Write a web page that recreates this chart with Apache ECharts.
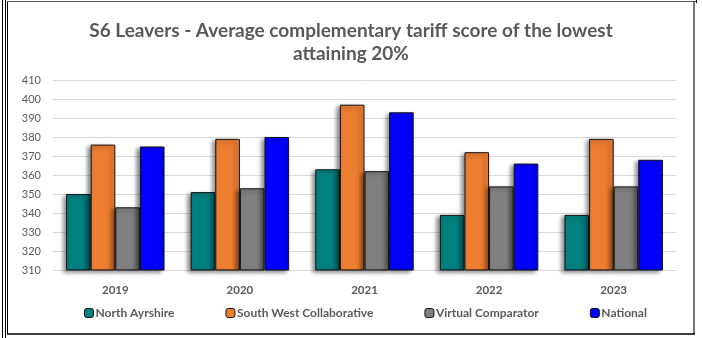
<!DOCTYPE html>
<html>
<head>
<meta charset="utf-8">
<script src="https://cdn.jsdelivr.net/npm/echarts@6/dist/echarts.min.js"></script>
<style>
  html, body { margin: 0; padding: 0; background: #fff; }
  #chart { width: 702px; height: 338px; }
</style>
</head>
<body>
<div id="chart"></div>
<script>
const years = ['2019', '2020', '2021', '2022', '2023'];
const northAyrshire = [350, 351, 363, 339, 339];
const southWest = [376, 379, 397, 372, 379];
const virtualComparator = [343, 353, 362, 354, 354];
const national = [375, 380, 393, 366, 368];
const seriesNames = ['North Ayrshire', 'South West Collaborative', 'Virtual Comparator', 'National'];
const seriesColors = ['#008080', '#ED7D31', '#808080', '#0000FF'];

const FONT = '"Lato", sans-serif';
const chart = echarts.init(document.getElementById('chart'));

function barSeries(name, data, color) {
  return {
    name: name,
    type: 'bar',
    data: data,
    barGap: '0%',
    barCategoryGap: '21%',
    itemStyle: {
      color: color,
      borderColor: '#111',
      borderWidth: 1,
      shadowColor: 'rgba(0,0,0,0.45)',
      shadowBlur: 4,
      shadowOffsetX: -3,
      shadowOffsetY: 2
    }
  };
}

chart.setOption({
  animation: false,
  title: {
    text: 'S6 Leavers - Average complementary tariff score of the lowest\nattaining 20%',
    left: 'center',
    top: 14,
    textStyle: {
      fontFamily: FONT,
      fontSize: 19,
      fontWeight: 'bold',
      color: '#595959',
      lineHeight: 23
    }
  },
  legend: {
    data: seriesNames,
    bottom: 14,
    left: 79,
    itemWidth: 9,
    itemHeight: 9,
    itemGap: 51,
    textStyle: { fontFamily: FONT, fontSize: 12, fontWeight: 'bold', color: '#595959', padding: [0, 0, 0, -3] },
    itemStyle: { borderColor: '#111', borderWidth: 1 }
  },
  grid: { left: 53, right: 26, top: 80, bottom: 68 },
  xAxis: {
    type: 'category',
    data: years,
    axisLine: { lineStyle: { color: '#d9d9d9' } },
    axisTick: { show: false },
    axisLabel: { fontFamily: FONT, fontSize: 11.5, fontWeight: 'bold', color: '#595959', margin: 14 }
  },
  yAxis: {
    type: 'value',
    min: 310,
    max: 410,
    interval: 10,
    axisLine: { show: false },
    axisTick: { show: false },
    axisLabel: { fontFamily: FONT, fontSize: 11, color: '#595959', margin: 12, align: 'right' },
    splitLine: { lineStyle: { color: '#d9d9d9' } }
  },
  series: [
    barSeries(seriesNames[0], northAyrshire, seriesColors[0]),
    barSeries(seriesNames[1], southWest, seriesColors[1]),
    barSeries(seriesNames[2], virtualComparator, seriesColors[2]),
    barSeries(seriesNames[3], national, seriesColors[3])
  ],
  graphic: [
    { type: 'line', shape: { x1: 2.5, y1: 0, x2: 2.5, y2: 338 }, style: { stroke: '#000', lineWidth: 1 } },
    { type: 'line', shape: { x1: 5.5, y1: 0, x2: 5.5, y2: 338 }, style: { stroke: '#000', lineWidth: 1 } },
    { type: 'line', shape: { x1: 7.5, y1: 2, x2: 7.5, y2: 334 }, style: { stroke: '#000', lineWidth: 1 } },
    { type: 'line', shape: { x1: 7, y1: 1.5, x2: 697, y2: 1.5 }, style: { stroke: '#555', lineWidth: 1 } },
    { type: 'line', shape: { x1: 696.5, y1: 0, x2: 696.5, y2: 3 }, style: { stroke: '#000', lineWidth: 1 } },
    { type: 'line', shape: { x1: 694, y1: 2, x2: 694, y2: 334 }, style: { stroke: '#777', lineWidth: 2 } },
    { type: 'line', shape: { x1: 7, y1: 334, x2: 695, y2: 334 }, style: { stroke: '#000', lineWidth: 1.5 } }
  ]
});
</script>
</body>
</html>
